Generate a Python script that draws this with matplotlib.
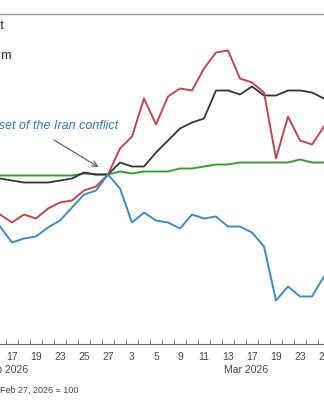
import pandas as pd
import matplotlib
matplotlib.use("Agg")
import matplotlib.pyplot as plt

# trading days shown (index, Feb 27, 2026 = 100)
dates = ["2026-02-13", "2026-02-17", "2026-02-18", "2026-02-19", "2026-02-20",
         "2026-02-23", "2026-02-24", "2026-02-25", "2026-02-26", "2026-02-27",
         "2026-03-02", "2026-03-03", "2026-03-04", "2026-03-05", "2026-03-06",
         "2026-03-09", "2026-03-10", "2026-03-11", "2026-03-12", "2026-03-13",
         "2026-03-16", "2026-03-17", "2026-03-18", "2026-03-19", "2026-03-20",
         "2026-03-23", "2026-03-24", "2026-03-25"]

red = [96.0, 95.2, 96.0, 95.6, 96.6, 97.2, 97.4, 98.4, 98.8, 100.0,
       102.6, 103.8, 107.6, 105.0, 107.8, 108.6, 108.4, 110.6, 112.2, 112.4,
       109.6, 109.2, 108.2, 101.6, 105.8, 103.4, 103.0, 104.8]
black = [99.6, 99.4, 99.2, 99.2, 99.2, 99.4, 99.6, 100.2, 100.0, 100.0,
         101.2, 100.8, 100.8, 102.2, 103.4, 104.6, 105.2, 105.6, 108.4, 108.4,
         108.0, 108.8, 107.9, 107.9, 108.4, 108.4, 108.2, 107.6]
green = [99.9, 99.9, 99.9, 99.9, 99.9, 99.9, 99.9, 100.1, 100.0, 100.0,
         100.3, 100.1, 100.3, 100.3, 100.3, 100.6, 100.6, 100.8, 101.0, 101.0,
         101.2, 101.2, 101.2, 101.2, 101.2, 101.5, 101.2, 101.2]
blue = [94.8, 93.2, 93.6, 93.8, 94.7, 95.4, 96.7, 98.0, 98.4, 100.0,
        98.6, 95.2, 96.2, 95.4, 95.2, 94.6, 96.0, 95.6, 95.8, 94.8,
        94.8, 94.2, 92.8, 87.4, 88.8, 87.8, 87.8, 89.8]

month_labels = ["Feb 2026", "Mar 2026"]
annotation = "Onset of the Iran conflict"
footnote = "Feb 27, 2026 = 100"


def main():
    # full trading calendar for the x axis (Presidents Day closed)
    days = pd.bdate_range("2026-02-02", "2026-03-31")
    days = days[days != pd.Timestamp("2026-02-16")]
    pos = {d: i for i, d in enumerate(days)}
    x = [pos[pd.Timestamp(d)] for d in dates]
    i0 = pos[pd.Timestamp("2026-02-27")]

    W, H = 324, 400
    fig = plt.figure(figsize=(W / 100, H / 100), dpi=100)
    plt.rcParams["font.family"] = ["Liberation Sans", "DejaVu Sans"]

    # axes wider than the figure, like the cropped original
    px_day = 12
    x_left = 108 - px_day * (i0 + 0.5)
    ax_w = px_day * len(days)
    ax = fig.add_axes([x_left / W, (H - 344) / H, ax_w / W, 324 / H])
    ax.set_xlim(-0.5, len(days) - 0.5)
    ax.set_ylim(100 + (174.5 - 344) * 0.1, 100 + (174.5 - 20) * 0.1)

    ax.plot(x, green, color="#3d9a3a", lw=1.4, zorder=2)
    ax.plot(x, black, color="#333333", lw=1.3, zorder=3)
    ax.plot(x, red, color="#c0474f", lw=1.4, zorder=4)
    ax.plot(x, blue, color="#3a8cc6", lw=1.4, zorder=5)

    for s in ["left", "right", "top"]:
        ax.spines[s].set_visible(False)
    ax.spines["bottom"].set_color("#666666")
    ax.spines["bottom"].set_linewidth(0.8)
    ax.set_yticks([])

    # labels on every other day, tick marks between days
    lab_idx = list(range(0, len(days), 2))
    ax.set_xticks(lab_idx, [str(days[i].day) for i in lab_idx])
    ax.tick_params(axis="x", which="major", length=0, pad=6,
                   labelsize=7.5, labelcolor="#444444")
    ax.set_xticks([i + 0.5 for i in range(-1, len(days))], minor=True)
    ax.tick_params(axis="x", which="minor", direction="in", length=3,
                   width=0.7, color="#666666")

    trans = ax.get_xaxis_transform()
    ax.text(9.5, -0.08, month_labels[0], transform=trans, ha="center",
            va="center", fontsize=7.5, color="#444444")
    ax.text(29.5, -0.08, month_labels[1], transform=trans, ha="center",
            va="center", fontsize=7.5, color="#444444")

    # annotation
    ax.annotate("", xy=(i0 - 0.6, 100.6), xytext=(i0 - 4.7, 103.6),
                arrowprops=dict(arrowstyle="->", color="#555555", lw=0.8))
    fig.text(118 / W, 1 - 126 / H, annotation, ha="right", va="center",
             fontsize=9, style="italic", color="#2a7ab8")

    fig.text(0.5 / W, 1 - 390 / H, footnote, ha="left", va="center",
             fontsize=6.5, color="#444444")

    # top rule and cropped header text
    fig.add_artist(plt.Line2D([0, 1], [1 - 14 / H, 1 - 14 / H],
                              color="#9a9a9a", lw=1.0))
    fig.text(4 / W, 1 - 26 / H, "Chart", ha="right", va="center",
             fontsize=9, color="#222222")
    fig.text(11.5 / W, 1 - 55 / H, "Brent crude, index m", ha="right",
             va="center", fontsize=9, color="#222222")

    fig.savefig("out.png", dpi=100)
# end def: main


if __name__ == "__main__":
    main()
# end if
